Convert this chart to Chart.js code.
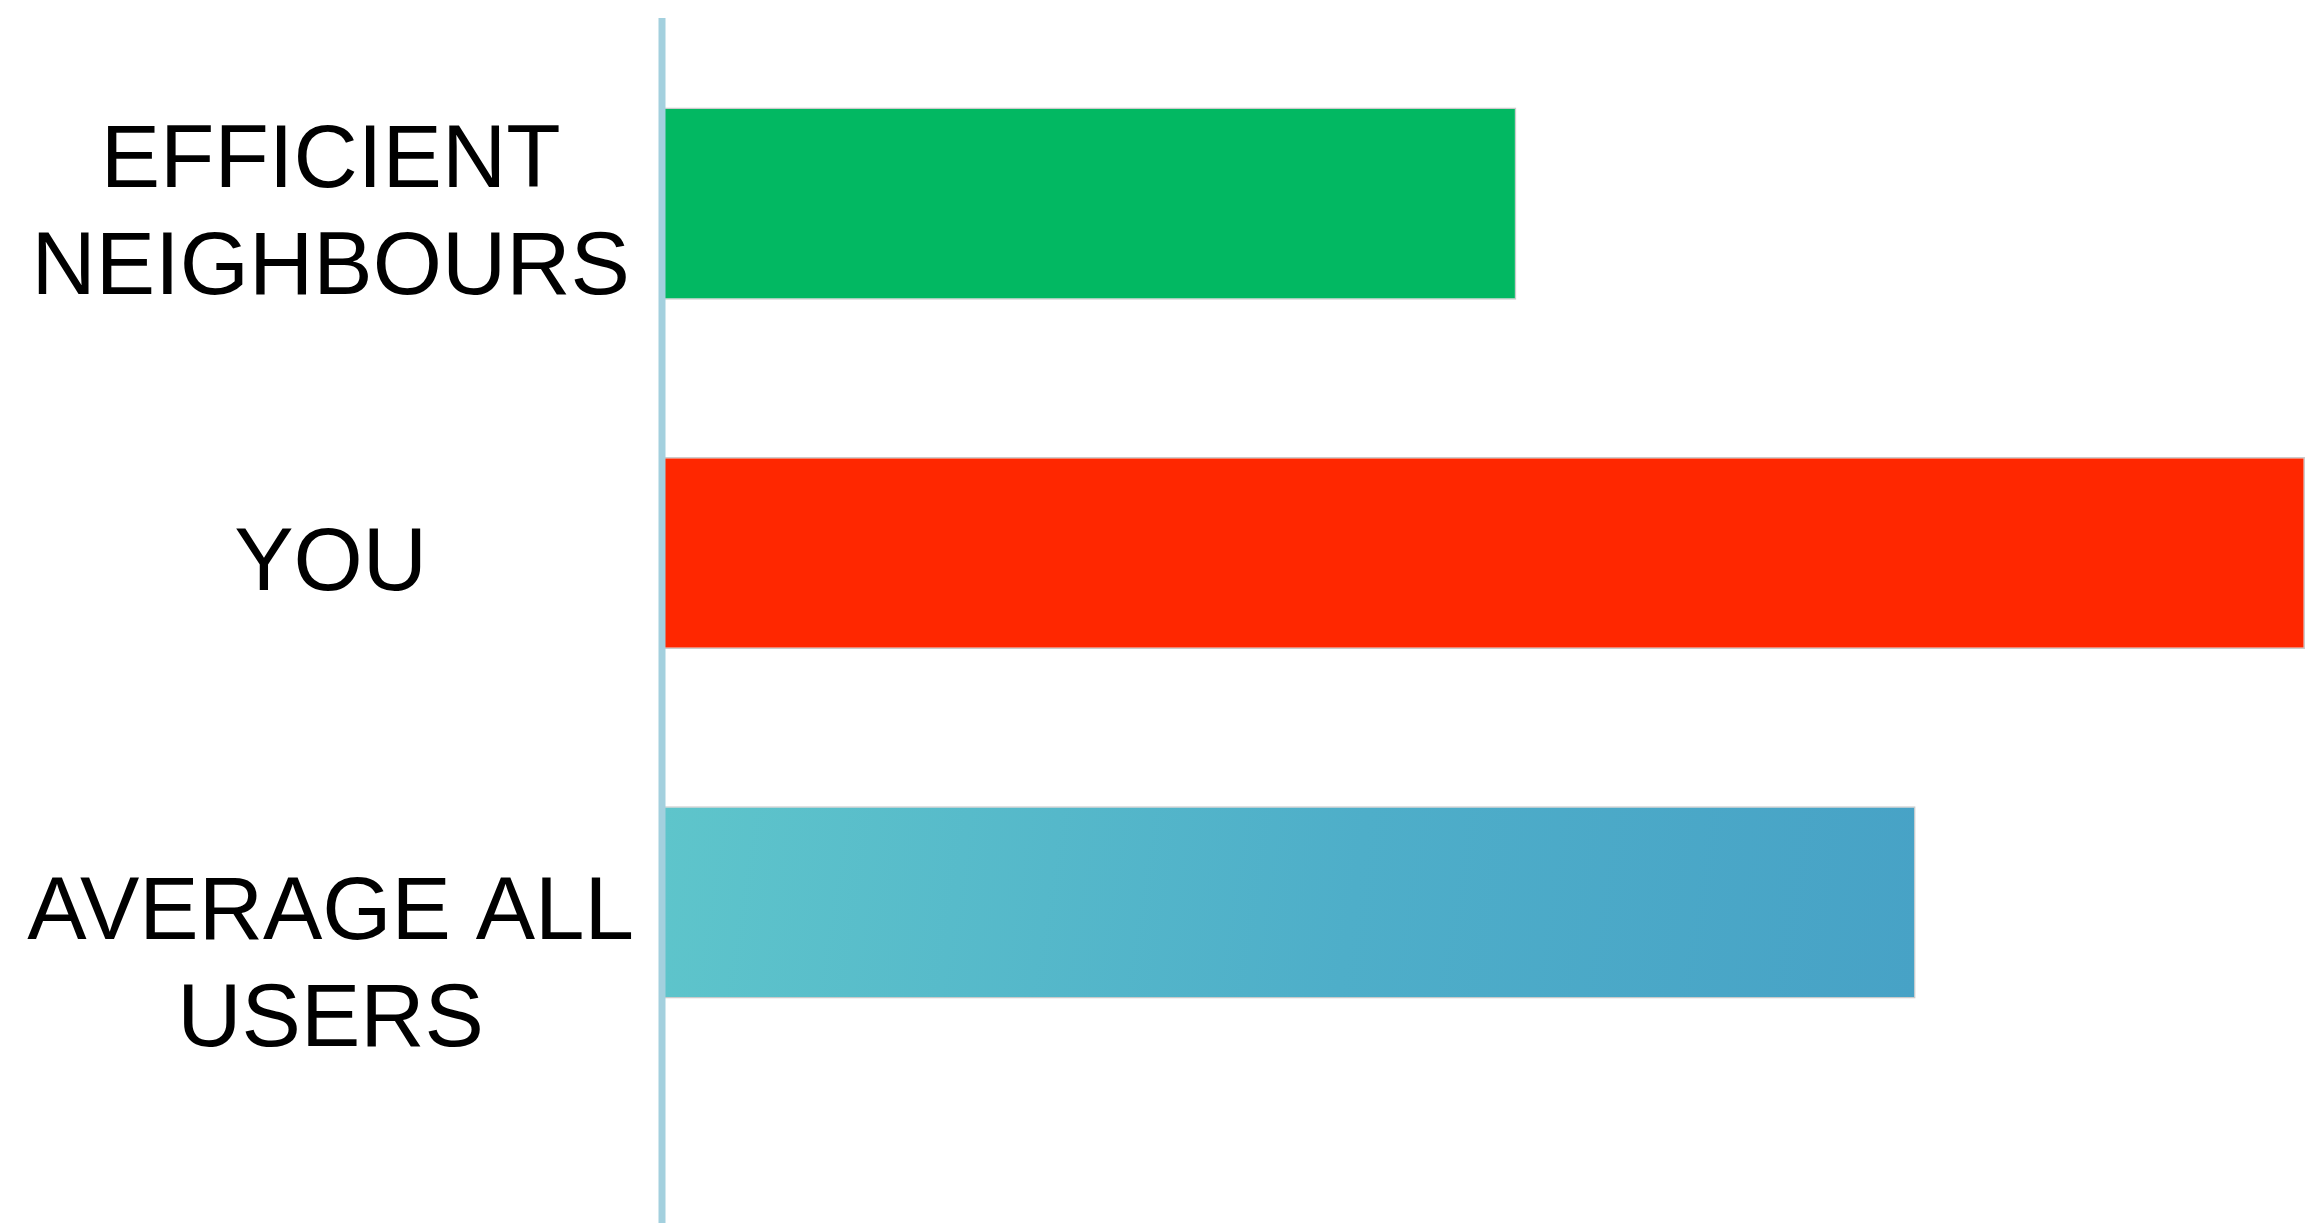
<!DOCTYPE html>
<html>
<head>
<meta charset="utf-8">
<title>Usage comparison</title>
<script src="https://cdn.jsdelivr.net/npm/chart.js@4.4.1/dist/chart.umd.min.js"></script>
<style>
  html, body { margin: 0; padding: 0; background: #fff; }
  #wrap { width: 2305px; height: 1223px; overflow: hidden; }
</style>
</head>
<body>
<div id="wrap"><canvas id="usageChart" width="2305" height="1223"></canvas></div>
<script>
// categories and values (share of the largest bar)
const categories = [['EFFICIENT', 'NEIGHBOURS'], 'YOU', ['AVERAGE ALL', 'USERS']];
const usage = [52, 100, 76.3];
const barColors = ['#02b862', '#ff2700', 'gradient'];

// blue bar has a soft diagonal gradient
function barFill(ctx) {
  const c = barColors[ctx.dataIndex];
  if (c !== 'gradient') return c;
  const chart = ctx.chart;
  const xs = chart.scales.x, ys = chart.scales.y;
  if (!xs || !ys || xs.width === undefined) return '#4fb0c8';
  const x0 = xs.getPixelForValue(0);
  const x1 = xs.getPixelForValue(usage[ctx.dataIndex]);
  const yc = ys.getPixelForValue(ctx.dataIndex);
  const g = chart.ctx.createLinearGradient(x0, yc - 100, x1, yc + 100);
  g.addColorStop(0, '#5ec5cb');
  g.addColorStop(0.55, '#4eaec9');
  g.addColorStop(1, '#47a2c6');
  return g;
}

// the axis line runs from near the top of the picture to the bottom edge
const axisLine = {
  id: 'axisLine',
  afterDatasetsDraw(chart) {
    const ctx = chart.ctx;
    const x = chart.scales.x.getPixelForValue(0);
    ctx.save();
    ctx.strokeStyle = '#a3d0de';
    ctx.lineWidth = 7;
    ctx.beginPath();
    ctx.moveTo(x, chart.chartArea.top - 11);
    ctx.lineTo(x, chart.height);
    ctx.stroke();
    ctx.restore();
  }
};

new Chart(document.getElementById('usageChart'), {
  type: 'bar',
  data: {
    labels: categories,
    datasets: [{
      data: usage,
      backgroundColor: barFill,
      borderColor: 'rgba(140,140,140,0.45)',
      borderWidth: 1.5,
      borderSkipped: 'start',
      categoryPercentage: 1,
      barPercentage: 0.55
    }]
  },
  options: {
    indexAxis: 'y',
    responsive: false,
    devicePixelRatio: 1,
    animation: false,
    layout: { padding: { top: 29, bottom: 146, left: 0, right: 0 } },
    plugins: { legend: { display: false }, tooltip: { enabled: false } },
    scales: {
      x: { display: false, min: 0, max: 100 },
      y: {
        grid: { display: false, drawTicks: false },
        border: { display: false },
        afterFit(scale) {
          scale.width = 662;
          // labels sit inside their bands, so no extra room above/below
          scale.paddingTop = 0;
          scale.paddingBottom = 0;
        },
        ticks: {
          crossAlign: 'center',
          padding: 28,
          labelOffset: 12,
          color: '#000',
          font: { family: '"Liberation Sans", Arial, sans-serif', size: 89, lineHeight: 1.2 },
          // last label sits a bit lower than its bar in the original
          callback(value, index) {
            const lbl = categories[index];
            return index === categories.length - 1 ? [''].concat(lbl) : lbl;
          }
        }
      }
    }
  },
  plugins: [axisLine]
});
</script>
</body>
</html>
